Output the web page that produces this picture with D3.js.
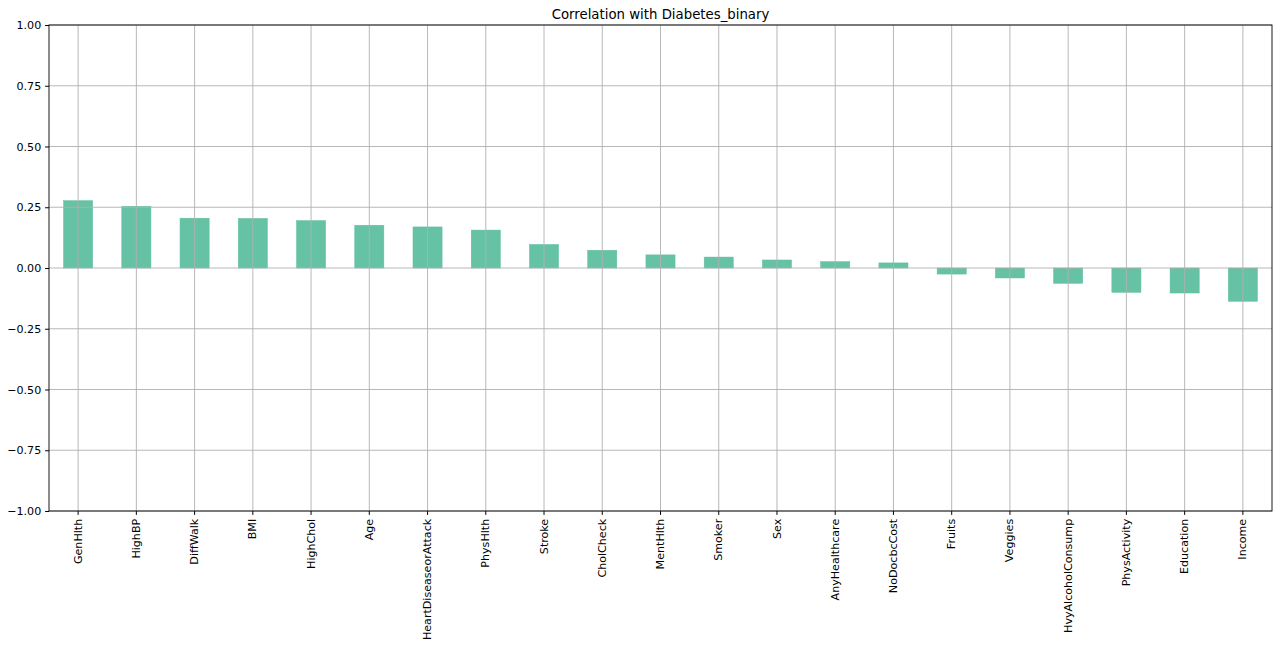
<!DOCTYPE html>
<html><head><meta charset="utf-8">
<script src="https://cdn.jsdelivr.net/npm/d3@7"></script>
<style>body{margin:0;background:#fff;} text{font-family:"DejaVu Sans",sans-serif;}</style>
</head><body>
<svg id="c" width="1280" height="647"></svg>
<script>
const categories = ["GenHlth","HighBP","DiffWalk","BMI","HighChol","Age","HeartDiseaseorAttack","PhysHlth","Stroke","CholCheck","MentHlth","Smoker","Sex","AnyHealthcare","NoDocbcCost","Fruits","Veggies","HvyAlcoholConsump","PhysActivity","Education","Income"];
const values = [0.277,0.254,0.205,0.204,0.195,0.176,0.169,0.156,0.097,0.073,0.054,0.045,0.033,0.026,0.021,-0.025,-0.041,-0.063,-0.100,-0.103,-0.137];
const yTicks = [-1.00,-0.75,-0.50,-0.25,0.00,0.25,0.50,0.75,1.00];
const title = "Correlation with Diabetes_binary";

const svg = d3.select("#c");
const m = {l:49, r:1272, t:25, b:511};
const x = d3.scaleBand().domain(categories).range([m.l, m.r]).paddingInner(0.5).paddingOuter(0.25);
const y = d3.scaleLinear().domain([-1,1]).range([m.b, m.t]);

// bars
svg.append("g").selectAll("rect").data(values).join("rect")
  .attr("x",(d,i)=>x(categories[i]))
  .attr("width",x.bandwidth())
  .attr("y",d=>y(Math.max(0,d)))
  .attr("height",d=>Math.abs(y(d)-y(0)))
  .attr("fill","#66c2a5")
  .attr("stroke","#5fbf9f").attr("stroke-width",0.5);

// grid
const grid = svg.append("g").attr("stroke","#b0b0b0").attr("stroke-width",0.9);
grid.selectAll(".gy").data(yTicks).join("line")
  .attr("x1",m.l).attr("x2",m.r).attr("y1",d=>y(d)).attr("y2",d=>y(d));
grid.selectAll(".gx").data(categories).join("line")
  .attr("x1",d=>x(d)+x.bandwidth()/2).attr("x2",d=>x(d)+x.bandwidth()/2)
  .attr("y1",m.t).attr("y2",m.b);

// axes
const fs = 11.1;
const yAxis = d3.axisLeft(y).tickValues(yTicks).tickFormat(d=>d3.format(".2f")(d).replace("-","\u2212")).tickSize(3.9).tickPadding(3.9);
const gy = svg.append("g").attr("transform",`translate(${m.l},0)`).call(yAxis);
gy.select(".domain").remove();
gy.selectAll("text").attr("font-size",fs).attr("fill","#000").style("font-family","DejaVu Sans");

const xAxis = d3.axisBottom(x).tickSize(3.9).tickPadding(3.9);
const gx = svg.append("g").attr("transform",`translate(0,${m.b})`).call(xAxis);
gx.select(".domain").remove();
gx.selectAll("text").attr("font-size",fs).attr("fill","#000").style("font-family","DejaVu Sans")
  .attr("transform","rotate(-90)").attr("text-anchor","end").attr("dy","0.32em")
  .attr("x",-7.8).attr("y",0);

// frame
svg.append("rect").attr("x",m.l).attr("y",m.t).attr("width",m.r-m.l).attr("height",m.b-m.t)
  .attr("fill","none").attr("stroke","#000").attr("stroke-width",0.9);

svg.append("text").attr("x",(m.l+m.r)/2).attr("y",19).attr("text-anchor","middle")
  .attr("font-size",13.3).attr("fill","#000").text(title);
</script>
</body></html>
